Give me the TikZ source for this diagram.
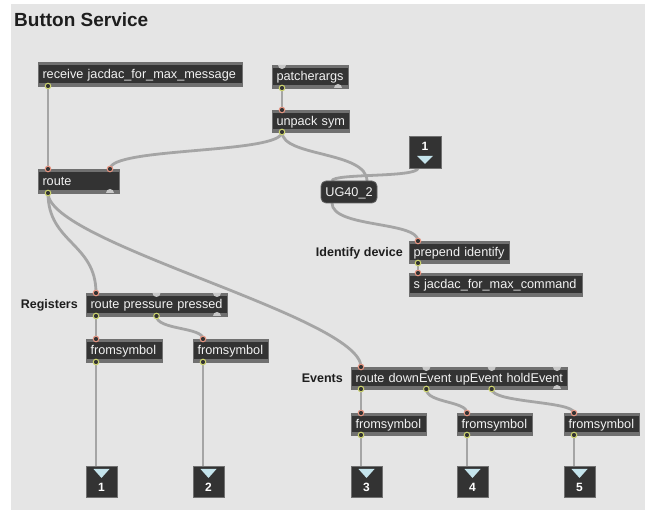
\documentclass[tikz,border=0pt]{standalone}
\usepackage{fontspec}
\setmainfont{Liberation Sans}
\usetikzlibrary{calc,backgrounds}
\definecolor{bgc}{RGB}{229,229,229}
\definecolor{bodyc}{RGB}{51,51,51}
\definecolor{stripc}{RGB}{112,112,112}
\definecolor{cablec}{RGB}{165,165,165}
\definecolor{inring}{RGB}{232,150,130}
\definecolor{outring}{RGB}{205,212,110}
\definecolor{freeport}{RGB}{200,200,200}
\definecolor{tric}{RGB}{197,228,236}
\definecolor{labc}{RGB}{30,30,30}
\definecolor{txtc}{RGB}{242,242,242}
\begin{document}
\begin{tikzpicture}[x=1pt,y=-1pt,
  obj/.style n args={2}{rectangle, draw=stripc, line width=0.8pt, fill=bodyc,
    outer sep=0pt, inner xsep=4.5pt, inner ysep=0pt, anchor=north west,
    minimum width=#1, text width=#1-9pt, minimum height=#2, align=left,
    text=txtc, font=\fontsize{12.7}{14}\selectfont, text height=10pt, text depth=1pt,
    path picture={\fill[stripc] (path picture bounding box.north west) rectangle ($(path picture bounding box.north east)+(0,3)$);
                  \fill[stripc] (path picture bounding box.south west) rectangle ($(path picture bounding box.south east)+(0,-3)$);}},
  msg/.style={rectangle, rounded corners=5pt, draw=stripc!80!bodyc, line width=0.8pt, fill=bodyc,
    outer sep=0pt, inner xsep=4pt, inner ysep=0pt, anchor=north west,
    minimum width=56pt, minimum height=22pt, text=txtc, font=\fontsize{12.7}{14}\selectfont,
    text height=10pt, text depth=1pt},
  inbox/.style={rectangle, draw=stripc, line width=0.8pt, fill=bodyc, minimum width=32pt,
    minimum height=32pt, inner sep=0pt, outer sep=0pt, anchor=north west, text=white,
    font=\bfseries\fontsize{12}{14}\selectfont, text height=10pt, text depth=12pt,
    path picture={\fill[tric] ($(path picture bounding box.north)+(-8,20)$) -- ++(16,0) -- ++(-8,8) -- cycle;}},
  outbox/.style={rectangle, draw=stripc, line width=0.8pt, fill=bodyc, minimum width=31pt,
    minimum height=31pt, inner sep=0pt, outer sep=0pt, anchor=north west, text=white,
    font=\bfseries\fontsize{12}{14}\selectfont, text height=21pt, text depth=0pt,
    path picture={\fill[tric] ($(path picture bounding box.north)+(-8,3)$) -- ++(16,0) -- ++(-8,9) -- cycle;}},
  lab/.style={anchor=base east, inner sep=0pt, text=labc, font=\bfseries\fontsize{12.5}{14}\selectfont},
  cable/.style={draw=cablec, line width=2.8pt},
  inport/.style={draw=inring, fill=bodyc, line width=1pt},
  outport/.style={draw=outring, fill=bodyc, line width=1pt},
  free/.style={fill=freeport}
]
\useasboundingbox (0,0) rectangle (649,510);

% title
\node[anchor=base west, inner sep=0pt, text=labc, font=\bfseries\fontsize{19}{22}\selectfont] (title) at (14,27) {Button Service};

% objects
\node[obj={204pt}{24pt}] (recv) at (38,62) {\mbox{receive jacdac\_for\_max\_message}};
\node[obj={76pt}{23pt}] (pargs) at (272,65) {\mbox{patcherargs}};
\node[obj={77pt}{22pt}] (unpack) at (272,110) {\mbox{unpack sym}};
\node[obj={81pt}{24pt}] (route) at (38,169) {\mbox{route}};
\node[inbox] (in1) at (409,136) {1};
\node[msg] (ug) at (321,181) {UG40\_2};
\node[obj={100pt}{22pt}] (prep) at (409,241) {\mbox{prepend identify}};
\node[obj={173pt}{23pt}] (send) at (409,273) {\mbox{s jacdac\_for\_max\_command}};
\node[obj={141pt}{23pt}] (rpp) at (86,293) {\mbox{route pressure pressed}};
\node[obj={76pt}{23pt}] (fs1) at (86,339) {\mbox{fromsymbol}};
\node[obj={75pt}{23pt}] (fs2) at (193,339) {\mbox{fromsymbol}};
\node[obj={216pt}{22pt}] (rev) at (351,367) {\mbox{route downEvent upEvent holdEvent}};
\node[obj={75pt}{22pt}] (fs3) at (351,413) {\mbox{fromsymbol}};
\node[obj={75pt}{22pt}] (fs4) at (457,413) {\mbox{fromsymbol}};
\node[obj={75pt}{22pt}] (fs5) at (564,413) {\mbox{fromsymbol}};
\node[outbox] (out1) at (86,466) {1};
\node[outbox] (out2) at (193,466) {2};
\node[outbox] (out3) at (351,466) {3};
\node[outbox] (out4) at (457,466) {4};
\node[outbox] (out5) at (564,466) {5};

% labels
\node[lab] (labid) at (403,256.5) {Identify device};
\node[lab] (labreg) at (78,309) {Registers};
\node[lab] (labev) at (343,382.5) {Events};

% port coordinates
\coordinate (recv-o0) at ($(recv.south west)+(10,0)$);
\coordinate (pargs-i0) at ($(pargs.north west)+(10,0)$);
\coordinate (pargs-o0) at ($(pargs.south west)+(10,0)$);
\coordinate (pargs-o1) at ($(pargs.south east)+(-10,0)$);
\coordinate (unpack-i0) at ($(unpack.north west)+(10,0)$);
\coordinate (unpack-o0) at ($(unpack.south west)+(10,0)$);
\coordinate (route-i0) at ($(route.north west)+(10,0)$);
\coordinate (route-i1) at ($(route.north east)+(-9,0)$);
\coordinate (route-o0) at ($(route.south west)+(10,0)$);
\coordinate (route-o1) at ($(route.south east)+(-9,0)$);
\coordinate (in1-o0) at ($(in1.south west)+(9,0)$);
\coordinate (ug-i0) at ($(ug.north west)+(11,0)$);
\coordinate (ug-i1) at ($(ug.north east)+(-10,0)$);
\coordinate (ug-o0) at ($(ug.south west)+(11,0)$);
\coordinate (prep-i0) at ($(prep.north west)+(9,0)$);
\coordinate (prep-o0) at ($(prep.south west)+(9,0)$);
\coordinate (send-i0) at ($(send.north west)+(9,0)$);
\coordinate (rpp-i0) at ($(rpp.north west)+(10,0)$);
\coordinate (rpp-i1) at ($(rpp.north)+(0,0)$);
\coordinate (rpp-i2) at ($(rpp.north east)+(-10,0)$);
\coordinate (rpp-o0) at ($(rpp.south west)+(10,0)$);
\coordinate (rpp-o1) at ($(rpp.south)+(0,0)$);
\coordinate (rpp-o2) at ($(rpp.south east)+(-10,0)$);
\foreach \n in {fs1,fs2,fs3,fs4,fs5}{
  \coordinate (\n-i0) at ($(\n.north west)+(10,0)$);
  \coordinate (\n-o0) at ($(\n.south west)+(10,0)$);
}
\foreach \n in {out1,out2,out3,out4,out5}{
  \coordinate (\n-i0) at ($(\n.north west)+(10,0)$);
}
\foreach \k/\f in {0/0,1/0.3333,2/0.6667,3/1}{
  \coordinate (rev-i\k) at ($(rev.north west)!\f!(rev.north east)+({10-20*\f},0)$);
  \coordinate (rev-o\k) at ($(rev.south west)!\f!(rev.south east)+({10-20*\f},0)$);
}

% background and cables
\begin{pgfonlayer}{background}
\fill[white] (0,0) rectangle (649,510);
\fill[bgc] (11,4) rectangle (645,510);
\draw[cable] (recv-o0) -- (route-i0);
\draw[cable] (pargs-o0) -- (unpack-i0);
\draw[cable] (unpack-o0) .. controls +(0,22) and +(0,-22) .. (route-i1);
\draw[cable] (unpack-o0) .. controls +(0,25) and +(0,-30) .. (ug-i1);
\draw[cable] (in1-o0) .. controls +(0,10) and +(0,-8) .. (ug-i0);
\draw[cable] (ug-o0) .. controls +(0,25) and +(0,-20) .. (prep-i0);
\draw[cable] (prep-o0) -- (send-i0);
\draw[cable] (route-o0) .. controls +(0,50) and +(0,-50) .. (rpp-i0);
\draw[cable] (route-o0) .. controls +(0,50) and +(0,-50) .. (rev-i0);
\draw[cable] (rpp-o0) -- (fs1-i0);
\draw[cable] (rpp-o1) .. controls +(0,14) and +(0,-12) .. (fs2-i0);
\draw[cable] (fs1-o0) -- (out1-i0);
\draw[cable] (fs2-o0) -- (out2-i0);
\draw[cable] (rev-o0) -- (fs3-i0);
\draw[cable] (rev-o1) .. controls +(0,14) and +(0,-12) .. (fs4-i0);
\draw[cable] (rev-o2) .. controls +(0,14) and +(0,-12) .. (fs5-i0);
\draw[cable] (fs3-o0) -- (out3-i0);
\draw[cable] (fs4-o0) -- (out4-i0);
\draw[cable] (fs5-o0) -- (out5-i0);
\end{pgfonlayer}

% connected ports
\foreach \p in {route-i0,route-i1,unpack-i0,prep-i0,send-i0,rpp-i0,fs1-i0,fs2-i0,rev-i0,fs3-i0,fs4-i0,fs5-i0}{
  \draw[inport] (\p) circle (2.8);
}
\foreach \p in {recv-o0,pargs-o0,unpack-o0,route-o0,prep-o0,rpp-o0,rpp-o1,fs1-o0,fs2-o0,rev-o0,rev-o1,rev-o2,fs3-o0,fs4-o0,fs5-o0}{
  \draw[outport] (\p) circle (2.8);
}
% free ports (half discs inside the box edge)
\foreach \p in {pargs-i0,rpp-i1,rpp-i2,rev-i1,rev-i2,rev-i3}{
  \fill[free] ($(\p)+(-4,0)$) arc[start angle=180,end angle=0,radius=4] -- cycle;
}
\foreach \p in {pargs-o1,route-o1,rpp-o2,rev-o3}{
  \fill[free] ($(\p)+(-4,0)$) arc[start angle=180,end angle=360,radius=4] -- cycle;
}
\end{tikzpicture}
\end{document}
